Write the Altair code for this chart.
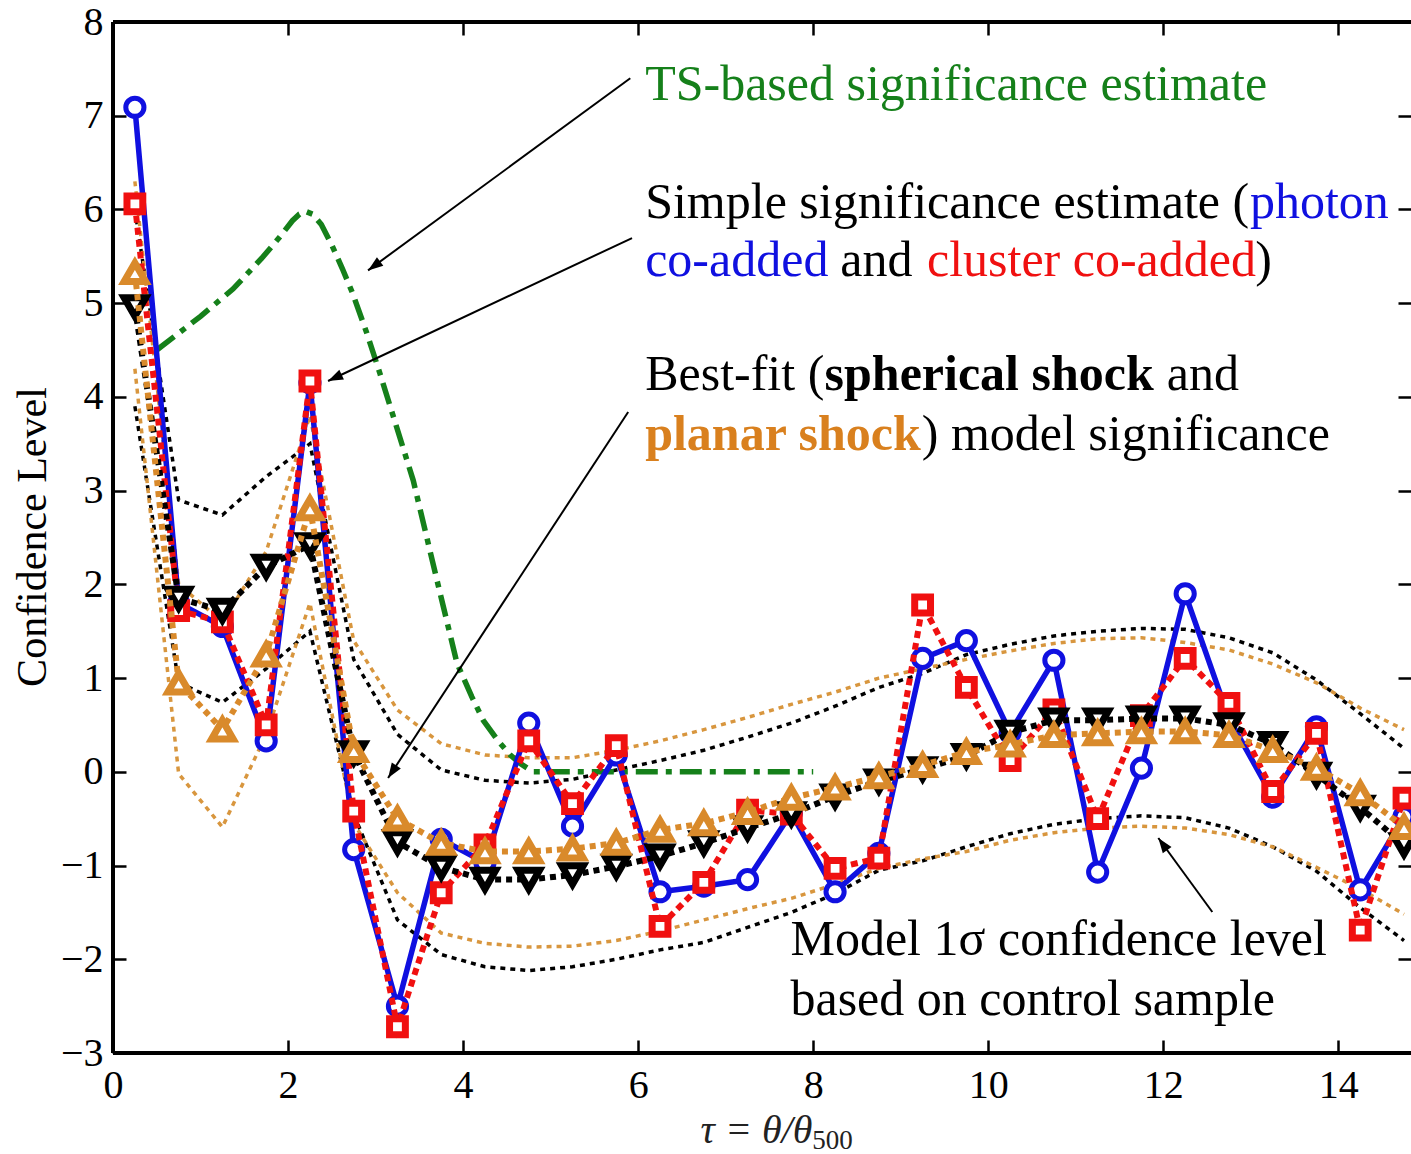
import math
import altair as alt
import pandas as pd

# ---------------- data ----------------
tau = [0.25, 0.75, 1.25, 1.75, 2.25, 2.75, 3.25, 3.75, 4.25, 4.75,
       5.25, 5.75, 6.25, 6.75, 7.25, 7.75, 8.25, 8.75, 9.25, 9.75,
       10.25, 10.75, 11.25, 11.75, 12.25, 12.75, 13.25, 13.75, 14.25, 14.75]

photon = [7.09, 1.80, 1.55, 0.33, 4.15, -0.83, -2.50, -0.72, -0.97, 0.52,
          -0.58, 0.18, -1.28, -1.22, -1.15, -0.44, -1.28, -0.87, 1.21, 1.40,
          0.42, 1.19, -1.07, 0.04, 1.90, 0.57, -0.27, 0.48, -1.26, -0.48]

cluster = [6.06, 1.72, 1.60, 0.50, 4.17, -0.42, -2.72, -1.29, -0.78, 0.33,
           -0.34, 0.28, -1.65, -1.18, -0.41, -0.45, -1.03, -0.92, 1.78, 0.90,
           0.12, 0.66, -0.50, 0.60, 1.21, 0.73, -0.21, 0.41, -1.69, -0.28]

spherical = [4.96, 1.85, 1.72, 2.19, 2.42, 0.20, -0.75, -1.02, -1.15, -1.15,
             -1.10, -1.01, -0.90, -0.76, -0.60, -0.45, -0.26, -0.10, 0.03, 0.17,
             0.42, 0.55, 0.55, 0.57, 0.57, 0.50, 0.30, -0.03, -0.38, -0.78]

planar = [5.33, 0.95, 0.45, 1.25, 2.81, 0.23, -0.50, -0.76, -0.85, -0.85,
          -0.82, -0.76, -0.62, -0.55, -0.43, -0.28, -0.17, -0.05, 0.07, 0.21,
          0.29, 0.39, 0.41, 0.43, 0.43, 0.39, 0.23, 0.04, -0.23, -0.59]

sph_hi = [6.00, 2.90, 2.74, 3.15, 3.50, 1.20, 0.40, 0.02, -0.09, -0.12,
          -0.08, 0.02, 0.12, 0.23, 0.37, 0.52, 0.70, 0.90, 1.05, 1.25,
          1.36, 1.45, 1.50, 1.53, 1.52, 1.43, 1.27, 0.98, 0.62, 0.25]

sph_lo = [3.90, 0.95, 0.74, 1.10, 1.50, -0.45, -1.58, -1.95, -2.08, -2.12,
          -2.08, -2.00, -1.90, -1.82, -1.66, -1.50, -1.30, -1.05, -0.95, -0.80,
          -0.66, -0.56, -0.50, -0.47, -0.49, -0.60, -0.80, -1.06, -1.45, -1.80]

pla_hi = [6.30, 2.00, 1.60, 2.35, 3.80, 1.40, 0.66, 0.30, 0.18, 0.15,
          0.15, 0.23, 0.33, 0.45, 0.58, 0.72, 0.85, 1.00, 1.10, 1.20,
          1.29, 1.37, 1.42, 1.43, 1.38, 1.30, 1.15, 0.95, 0.68, 0.45]

pla_lo = [4.30, -0.02, -0.59, 0.40, 1.80, -0.55, -1.29, -1.72, -1.83, -1.87,
          -1.86, -1.80, -1.70, -1.58, -1.46, -1.35, -1.20, -1.03, -0.93, -0.85,
          -0.73, -0.65, -0.60, -0.58, -0.60, -0.67, -0.80, -1.02, -1.25, -1.52]

ts_tau = [0.50, 1.00, 1.37, 1.70, 1.90, 2.05, 2.13, 2.20, 2.28, 2.38,
          2.50, 2.62, 2.74, 2.90, 3.05, 3.20, 3.43, 3.70, 3.93, 4.10,
          4.23, 4.40, 4.54, 4.65, 4.80, 8.00]
ts_sig = [4.50, 4.86, 5.15, 5.48, 5.70, 5.88, 5.95, 5.98, 5.95, 5.84,
          5.62, 5.37, 5.10, 4.68, 4.25, 3.80, 3.11, 2.05, 1.16, 0.80,
          0.55, 0.33, 0.18, 0.09, 0.00, 0.00]

x_ticks = [0, 2, 4, 6, 8, 10, 12, 14]
y_ticks = [-3, -2, -1, 0, 1, 2, 3, 4, 5, 6, 7, 8]

# annotation texts: (text, x, y baseline, colour)
ann_normal = [
    ("TS-based significance estimate", 6.08, 7.166, "#15801a"),
    ("Simple significance estimate (", 6.08, 5.908, "black"),
    ("photon", 12.99, 5.908, "#1010e0"),
    ("co-added", 6.08, 5.289, "#1010e0"),
    ("and", 8.31, 5.289, "black"),
    ("cluster co-added", 9.30, 5.289, "#f01010"),
    (")", 13.05, 5.289, "black"),
    ("Best-fit (", 6.08, 4.073, "black"),
    ("and", 12.04, 4.073, "black"),
    (") model significance", 9.24, 3.433, "black"),
    ("Model 1σ confidence level", 7.74, -1.955, "black"),
    ("based on control sample", 7.74, -2.595, "black"),
]
ann_bold = [
    ("spherical shock", 8.13, 4.073, "black"),
    ("planar shock", 6.08, 3.433, "#d9801e"),
]

# arrows: tail (x, y) -> tip (x2, y2)
arr_x = [5.91, 5.93, 5.886, 12.56]
arr_y = [7.40, 5.695, 3.839, -1.496]
arr_x2 = [2.914, 2.457, 3.143, 11.943]
arr_y2 = [5.35, 4.17, -0.066, -0.706]

# ---------------- chart ----------------
X_MIN, X_MAX = 0.0, 14.83
Y_MIN, Y_MAX = -3.0, 8.0
W, H = 1298, 1031
FONT = "Liberation Serif"

xs = alt.Scale(domain=[X_MIN, X_MAX], nice=False, zero=False)
ys = alt.Scale(domain=[Y_MIN, Y_MAX], nice=False, zero=False)

df = pd.DataFrame({"tau": tau, "photon": photon, "cluster": cluster,
                   "spherical": spherical, "planar": planar,
                   "sph_hi": sph_hi, "sph_lo": sph_lo,
                   "pla_hi": pla_hi, "pla_lo": pla_lo})
ts_df = pd.DataFrame({"tau": ts_tau, "sig": ts_sig})

base = alt.Chart(df)


def X(field="tau", axis=None):
    return alt.X(f"{field}:Q", scale=xs, axis=axis)


def Y(field, axis=None):
    return alt.Y(f"{field}:Q", scale=ys, axis=axis)


layers = []

# confidence bands
for fld, col in [("sph_hi", "black"), ("sph_lo", "black"),
                 ("pla_hi", "#d8963e"), ("pla_lo", "#d8963e")]:
    layers.append(base.mark_line(color=col, strokeWidth=3.5, strokeDash=[5, 5])
                  .encode(x=X(), y=Y(fld)))

# TS curve
layers.append(alt.Chart(ts_df).mark_line(color="#15801a", strokeWidth=5.5,
                                         strokeDash=[22, 8, 6, 8])
              .encode(x=X(), y=Y("sig")))

# axes (bottom / left on photon line, top / right on cluster line)
ax_common = dict(domain=False, grid=False, tickColor="black", tickWidth=2.5,
                 tickSize=13, offset=-13, labelFont=FONT, labelFontSize=40,
                 labelColor="black", title=None, labelFlush=False,
                 labelOverlap=False, format="d")
x_axis_b = alt.Axis(orient="bottom", values=x_ticks, labelPadding=12, **ax_common)
y_axis_l = alt.Axis(orient="left", values=y_ticks, labelPadding=10, **ax_common)
x_axis_t = alt.Axis(orient="top", values=x_ticks, labels=False, **ax_common)
y_axis_r = alt.Axis(orient="right", values=y_ticks, labels=False, **ax_common)

# photon co-added (blue)
layers.append(base.mark_line(color="#1010e0", strokeWidth=5.5)
              .encode(x=X(axis=x_axis_b), y=Y("photon", axis=y_axis_l)))
layers.append(base.mark_point(shape="circle", size=330, fill="white", fillOpacity=1,
                              stroke="#1010e0", strokeWidth=5, opacity=1)
              .encode(x=X(), y=Y("photon")))

# cluster co-added (red)
layers.append(base.mark_line(color="#f01010", strokeWidth=6, strokeDash=[7, 5])
              .encode(x=X(axis=x_axis_t), y=Y("cluster", axis=y_axis_r)))
layers.append(base.mark_point(shape="square", size=250, fill="white", fillOpacity=1,
                              stroke="#f01010", strokeWidth=7, opacity=1)
              .encode(x=X(), y=Y("cluster")))

# spherical shock model (black)
layers.append(base.mark_line(color="black", strokeWidth=6, strokeDash=[6, 5])
              .encode(x=X(), y=Y("spherical")))
layers.append(base.mark_point(shape="triangle-down", size=460, fill="white",
                              fillOpacity=1, stroke="black", strokeWidth=7, opacity=1)
              .encode(x=X(), y=Y("spherical")))

# planar shock model (orange)
layers.append(base.mark_line(color="#d98a2b", strokeWidth=6, strokeDash=[6, 5])
              .encode(x=X(), y=Y("planar")))
layers.append(base.mark_point(shape="triangle-up", size=460, fill="white",
                              fillOpacity=1, stroke="#d98a2b", strokeWidth=7, opacity=1)
              .encode(x=X(), y=Y("planar")))

# frame (left, top, bottom)
layers.append(alt.Chart(df).mark_rule(color="black", strokeWidth=3)
              .encode(x=alt.value(0), y=alt.value(0), y2=alt.value(H)))
layers.append(alt.Chart(df).mark_rule(color="black", strokeWidth=3)
              .encode(x=alt.value(0), x2=alt.value(W + 5), y=alt.value(0)))
layers.append(alt.Chart(df).mark_rule(color="black", strokeWidth=3)
              .encode(x=alt.value(0), x2=alt.value(W + 5), y=alt.value(H)))

# arrows
px_x = W / (X_MAX - X_MIN)
px_y = H / (Y_MAX - Y_MIN)
angles = []
for a, b, c, d in zip(arr_x, arr_y, arr_x2, arr_y2):
    dx = (c - a) * px_x
    dy = -(d - b) * px_y
    angles.append(math.degrees(math.atan2(dx, -dy)) % 360)
arr_df = pd.DataFrame({"x": arr_x, "y": arr_y, "x2": arr_x2, "y2": arr_y2,
                       "angle": angles})
layers.append(alt.Chart(arr_df).mark_rule(color="black", strokeWidth=2)
              .encode(x=alt.X("x:Q", scale=xs, axis=None),
                      y=alt.Y("y:Q", scale=ys, axis=None),
                      x2="x2:Q", y2="y2:Q"))
layers.append(alt.Chart(arr_df).mark_point(shape="M0,0L0.36,1L-0.36,1Z", size=900,
                                           filled=True, color="black", opacity=1,
                                           strokeWidth=0)
              .encode(x=alt.X("x2:Q", scale=xs, axis=None),
                      y=alt.Y("y2:Q", scale=ys, axis=None),
                      angle=alt.Angle("angle:Q", scale=None)))

# annotations
n_df = pd.DataFrame(ann_normal, columns=["text", "x", "y", "color"])
b_df = pd.DataFrame(ann_bold, columns=["text", "x", "y", "color"])
for d, w in [(n_df, "normal"), (b_df, "bold")]:
    layers.append(alt.Chart(d).mark_text(font=FONT, fontSize=50, fontWeight=w,
                                         align="left", baseline="alphabetic")
                  .encode(x=alt.X("x:Q", scale=xs, axis=None),
                          y=alt.Y("y:Q", scale=ys, axis=None),
                          text="text:N",
                          color=alt.Color("color:N", scale=None)))

# axis titles as text
title_df = pd.DataFrame({"x": [-0.914], "y": [2.505], "text": ["Confidence Level"]})
layers.append(alt.Chart(title_df).mark_text(font=FONT, fontSize=42, angle=270,
                                            align="center", baseline="middle",
                                            color="black")
              .encode(x=alt.X("x:Q", scale=xs, axis=None),
                      y=alt.Y("y:Q", scale=ys, axis=None), text="text:N"))
xt_df = pd.DataFrame({"x": [7.99], "y": [-3.955], "text": ["τ = θ/θ"]})
layers.append(alt.Chart(xt_df).mark_text(font=FONT, fontSize=40, fontStyle="italic",
                                         align="right", baseline="alphabetic",
                                         color="#222222")
              .encode(x=alt.X("x:Q", scale=xs, axis=None),
                      y=alt.Y("y:Q", scale=ys, axis=None), text="text:N"))
xs_df = pd.DataFrame({"x": [7.99], "y": [-4.02], "text": ["500"]})
layers.append(alt.Chart(xs_df).mark_text(font=FONT, fontSize=27,
                                         align="left", baseline="alphabetic",
                                         color="#222222")
              .encode(x=alt.X("x:Q", scale=xs, axis=None),
                      y=alt.Y("y:Q", scale=ys, axis=None), text="text:N"))

chart = (alt.layer(*layers)
         .resolve_axis(x="independent", y="independent")
         .properties(width=W, height=H,
                     padding={"left": 113, "top": 22, "right": 0, "bottom": 101},
                     autosize=alt.AutoSizeParams(type="none"),
                     background="white")
         .configure_view(stroke="transparent"))

chart.save("out.html", embed_options={"renderer": "svg", "actions": False})
